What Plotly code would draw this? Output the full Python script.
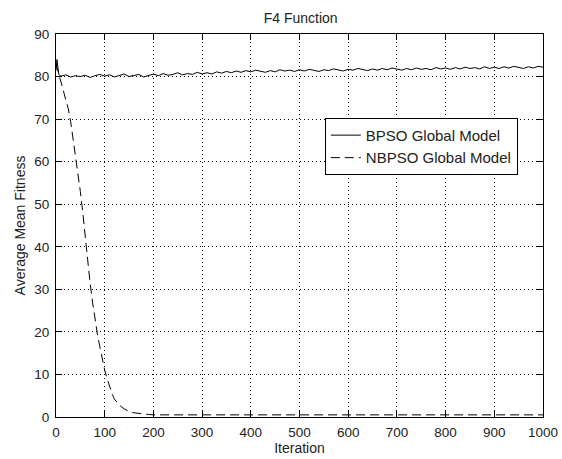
import plotly.graph_objects as go

# ---- data ----
bpso_x = [0, 2, 4, 6, 8] + list(range(10, 1001, 10))
bpso_y = [81.5, 84.0, 82.0, 80.5, 80.2,
          80.1, 80.4, 79.9, 80.2, 80.0, 80.3, 79.8, 80.2, 80.5, 80.1,
          80.4, 79.9, 80.3, 80.6, 80.0, 80.2, 80.5, 79.9, 80.3, 80.6,
          80.2, 80.7, 80.3, 80.5, 80.9, 80.4, 80.7, 80.5, 81.0, 80.6,
          80.9, 80.6, 81.1, 80.8, 81.2, 80.9, 81.3, 81.0, 81.4, 81.1,
          81.5, 81.2, 81.0, 81.4, 81.1, 81.6, 81.3, 81.5, 81.2, 81.6,
          81.3, 81.7, 81.4, 81.2, 81.6, 81.4, 81.8, 81.5, 81.3, 81.7,
          81.5, 81.9, 81.6, 81.4, 81.8, 81.5, 81.9, 81.6, 82.0, 81.7,
          81.5, 81.9, 81.6, 82.0, 81.7, 81.9, 81.6, 82.1, 81.8, 82.0,
          81.7, 82.1, 81.8, 82.2, 81.9, 82.1, 81.8, 82.3, 81.9, 82.2,
          81.9, 82.3, 82.0, 82.4, 82.1, 81.9, 82.3, 82.0, 82.4, 82.2]

nbpso_x = [0, 5, 10, 15, 20, 25, 30, 35, 40, 45, 50, 55, 60, 65, 70, 75, 80,
           85, 90, 95, 100, 105, 110, 115, 120, 130, 140, 150, 160, 170, 180,
           190, 200, 300, 400, 500, 600, 700, 800, 900, 1000]
nbpso_y = [83.0, 81.0, 79.0, 77.0, 75.0, 72.5, 69.5, 65.5, 61.0, 57.0, 53.0,
           48.0, 42.0, 36.5, 31.5, 27.0, 23.0, 19.5, 16.5, 13.5, 11.0, 9.0,
           7.0, 5.5, 4.2, 2.8, 1.9, 1.3, 1.0, 0.8, 0.7, 0.6, 0.5, 0.5, 0.5,
           0.5, 0.5, 0.5, 0.5, 0.5, 0.5]

x_ticks = list(range(0, 1001, 100))
y_ticks = list(range(0, 91, 10))

FONT = "Liberation Sans, Arial, sans-serif"
TXT = "#222222"

fig = go.Figure()
fig.add_trace(go.Scatter(x=bpso_x, y=bpso_y, mode="lines", name="BPSO Global Model",
                         line=dict(color="black", width=1)))
fig.add_trace(go.Scatter(x=nbpso_x, y=nbpso_y, mode="lines", name="NBPSO Global Model",
                         line=dict(color="black", width=1, dash="9px,5px")))

axis_common = dict(showline=True, linecolor="black", linewidth=1, mirror="ticks",
                   ticks="inside", ticklen=6, tickcolor="black", automargin=False,
                   showgrid=True, gridcolor="black", griddash="1px,3px", gridwidth=1,
                   zeroline=False, tickfont=dict(family=FONT, size=13.5, color=TXT))

fig.update_xaxes(range=[0, 1000], tickvals=x_ticks, ticklabelstandoff=3,
                 title=dict(text="Iteration", standoff=3,
                            font=dict(family=FONT, size=14, color=TXT)), **axis_common)
fig.update_yaxes(range=[0, 90], tickvals=y_ticks, ticklabelstandoff=3,
                 title=dict(text="Average Mean Fitness", standoff=5,
                            font=dict(family=FONT, size=14, color=TXT)), **axis_common)

fig.update_layout(
    width=562, height=459,
    margin=dict(l=56, r=19, t=34, b=42, autoexpand=False),
    paper_bgcolor="white", plot_bgcolor="white",
    title=dict(text="F4 Function", x=0.535, xanchor="center", y=1 - 18 / 459, yanchor="middle",
               font=dict(family=FONT, size=14, color=TXT)),
    legend=dict(x=0.552, y=0.781, xanchor="left", yanchor="top",
                bordercolor="black", borderwidth=1, bgcolor="white",
                font=dict(family=FONT, size=15, color=TXT), tracegroupgap=0),
    showlegend=True,
)

fig.write_html("out.html")
